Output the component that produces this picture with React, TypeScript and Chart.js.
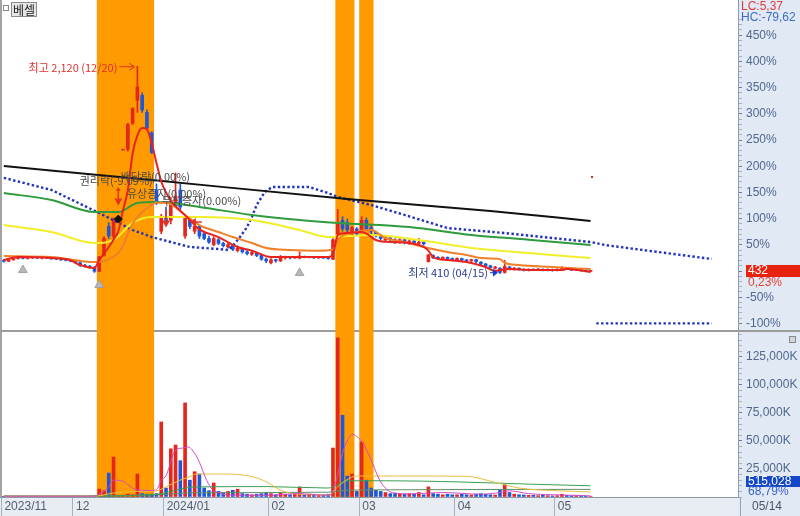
import React, { useEffect, useRef } from 'react';
import { Chart, registerables } from 'chart.js';

Chart.register(...registerables);

// ---------------- data ----------------
const stockName = '베셀';
const months = ['2023/11', '12', '2024/01', '02', '03', '04', '05'];
const monthDays = [15, 19, 22, 19, 20, 21, 8];
const lastDate = '05/14';
const hiDate = '12/20';
const loDate = '04/15';
const lastVolumeShares = 515028;
const volumeRatioPct = 68.79;

const open = [
  520, 512, 525, 535, 542, 536, 540, 545, 538, 541,
  536, 532, 530, 524, 520, 512, 500, 478, 472, 462,
  430, 560, 800, 720, 1105, 1436, 1436, 1650, 1840, 1880,
  1740, 1570, 1100, 760, 880, 850, 1000, 1100, 720, 860,
  760, 800, 740, 700, 650, 690, 660, 630, 645, 600,
  615, 590, 570, 580, 560, 530, 500, 525, 515, 540,
  548, 540, 538, 552, 545, 548, 540, 545, 540, 530,
  740, 850, 830, 740, 780, 760, 850, 790, 750, 725,
  690, 705, 690, 670, 690, 660, 680, 660, 670, 510,
  560, 545, 535, 545, 535, 525, 535, 522, 515, 525,
  505, 490, 475, 455, 455, 420, 465, 445, 455, 445,
  438, 445, 440, 446, 438, 444, 436, 445, 458, 448,
  440, 444, 436, 430,
];
const high = [
  528, 530, 540, 548, 550, 545, 552, 550, 546, 548,
  542, 540, 535, 530, 525, 518, 505, 488, 478, 468,
  552, 715, 830, 870, 1105, 1436, 1650, 1780, 2120, 1900,
  1760, 1580, 1150, 900, 960, 1040, 1240, 1150, 900, 880,
  830, 810, 760, 720, 715, 700, 670, 660, 650, 640,
  620, 600, 595, 585, 565, 540, 535, 530, 560, 555,
  552, 550, 590, 556, 552, 552, 550, 548, 545, 700,
  940, 880, 860, 800, 790, 880, 870, 810, 760, 735,
  720, 715, 700, 700, 695, 690, 685, 700, 675, 570,
  565, 550, 550, 548, 540, 540, 538, 528, 530, 528,
  510, 495, 480, 470, 460, 520, 470, 462, 458, 450,
  450, 448, 452, 450, 450, 448, 452, 468, 462, 452,
  448, 447, 440, 438,
];
const low = [
  505, 508, 520, 530, 532, 530, 535, 536, 532, 534,
  528, 526, 520, 515, 508, 495, 470, 465, 455, 420,
  425, 555, 700, 690, 1105, 1436, 1420, 1640, 1740, 1740,
  1600, 1400, 980, 740, 820, 820, 960, 940, 700, 780,
  740, 700, 690, 660, 640, 650, 630, 620, 600, 590,
  580, 565, 560, 550, 520, 500, 490, 505, 510, 530,
  532, 535, 532, 540, 540, 535, 536, 534, 528, 525,
  720, 760, 750, 730, 725, 750, 770, 740, 710, 690,
  680, 675, 660, 660, 655, 650, 650, 650, 645, 505,
  535, 528, 530, 528, 520, 518, 515, 508, 510, 500,
  485, 470, 455, 448, 410, 415, 440, 440, 438, 432,
  432, 434, 435, 432, 433, 430, 432, 442, 444, 436,
  435, 430, 428, 426,
];
const close = [
  512, 525, 535, 542, 536, 540, 545, 538, 541, 536,
  532, 530, 524, 520, 512, 500, 478, 472, 462, 430,
  548, 700, 720, 850, 1105, 1436, 1640, 1770, 1950, 1760,
  1610, 1410, 990, 870, 840, 1000, 1050, 960, 880, 800,
  800, 720, 700, 670, 700, 660, 640, 650, 610, 620,
  590, 575, 585, 560, 530, 515, 525, 515, 540, 548,
  540, 545, 555, 545, 548, 540, 545, 540, 535, 690,
  820, 780, 770, 790, 735, 850, 780, 760, 720, 700,
  710, 690, 670, 690, 665, 680, 660, 670, 655, 565,
  540, 535, 545, 535, 525, 535, 522, 515, 525, 510,
  490, 475, 460, 465, 420, 470, 450, 455, 445, 438,
  445, 440, 446, 438, 444, 436, 445, 458, 448, 440,
  444, 436, 431, 432,
];
// volume, thousand shares
const volume = [
  600, 500, 700, 650, 550, 600, 800, 500, 450, 500,
  400, 450, 500, 400, 600, 700, 800, 600, 900, 1500,
  7100, 5600, 21400, 35700, 1500, 1200, 2500, 2000, 20500, 3000,
  2500, 2500, 3000, 67000, 8000, 43000, 46400, 32400, 84000, 15000,
  22600, 20500, 8000, 5600, 12500, 5000, 4000, 5000, 6000, 7000,
  3000, 2500, 2000, 2500, 3000, 3500, 3000, 2000, 4000, 2500,
  2000, 2500, 9000, 2000, 2500, 2000, 1800, 2000, 2500, 43700,
  142000, 73000, 18700, 20500, 5000, 49000, 15000, 8000, 6000, 5000,
  4000, 3000, 3500, 3000, 2500, 3000, 2500, 4000, 2000, 9000,
  3000, 2500, 2000, 2500, 2000, 2000, 2500, 2000, 1800, 2500,
  3000, 2500, 2000, 1800, 6000, 11000, 4000, 2500, 2000, 1800,
  1500, 1500, 1200, 1500, 1200, 1000, 1200, 2500, 1500, 1000,
  900, 1000, 800, 515,
];

// highlighted (orange) day ranges, by trading-day index
const bands = [[20, 31], [70, 73], [75, 77]];

// price moving averages: [day index, price]
const ma5 = [[0, 523], [3, 547], [10, 539], [14, 520], [16, 481], [19, 457], [20, 523], [21, 575], [22, 630], [23, 690], [24, 760], [25, 935], [26, 1100], [27, 1400], [28, 1550], [29, 1610], [30, 1600], [31, 1487], [32, 1322], [33, 1170], [34, 1080], [35, 1010], [37, 930], [39, 852], [41, 775], [45, 712], [49, 630], [52, 600], [56, 547], [62, 547], [68, 547], [69, 570], [70, 729], [72, 745], [75, 754], [76, 740], [78, 688], [81, 671], [85, 663], [88, 630], [89, 600], [90, 547], [93, 523], [97, 506], [101, 465], [103, 432], [104, 440], [106, 448], [110, 440], [117, 440], [118, 448], [123, 424]];
const ma20 = [[0, 556], [10, 547], [19, 506], [21, 515], [22, 530], [24, 580], [25, 640], [26, 740], [27, 820], [28, 877], [30, 950], [32, 995], [34, 995], [38, 894], [41, 811], [45, 754], [48, 712], [52, 663], [55, 622], [60, 605], [66, 600], [69, 610], [70, 690], [73, 745], [77, 770], [80, 704], [84, 671], [88, 630], [93, 589], [97, 564], [100, 539], [104, 530], [105, 500], [108, 481], [115, 465], [123, 448]];
const ma60 = [[0, 811], [10, 754], [19, 663], [20, 663], [23, 688], [27, 828], [31, 877], [41, 877], [52, 852], [62, 770], [68, 712], [72, 720], [77, 729], [87, 688], [98, 622], [110, 580], [123, 539]];
const ma120 = [[0, 1075], [10, 1017], [19, 918], [24, 918], [28, 993], [32, 1000], [41, 960], [52, 894], [62, 852], [70, 828], [85, 795], [98, 729], [110, 690], [123, 646]];
const ma240 = [[0, 1298], [31, 1182], [72, 1026], [102, 927], [123, 844]];
const spanLead = [[0, 1200], [10, 1100], [20, 910], [27, 770], [31, 712], [35, 671], [39, 630], [45, 613], [47, 605], [48, 640], [49.5, 712], [51, 795], [52, 877], [53, 976], [54.7, 1083], [56.2, 1124], [64, 1124], [68, 1075], [70, 1042], [77, 976], [84, 894], [93, 786], [105, 745], [123, 671], [126, 646], [148.4, 531]];
const spanLag = [[124.2, 0], [148.4, 0]];

// volume moving averages: [day index, thousand shares]
const vma5 = [[0, 700], [19, 700], [20, 2500], [22, 9000], [23, 15000], [25, 14000], [26, 11000], [28, 6200], [31, 5800], [32, 6500], [33, 15000], [34, 19000], [36, 42000], [37.5, 43700], [38.6, 44600], [40, 39000], [41, 31000], [42.5, 15000], [43.8, 6250], [45.3, 3600], [46.7, 1800], [55, 1500], [62, 3000], [64, 2500], [68, 1500], [69, 5000], [70, 20000], [71, 39000], [72, 50000], [73, 56000], [74, 54000], [75.3, 48000], [76.7, 36000], [78.8, 15000], [80, 8000], [81.6, 3600], [85, 2800], [89, 3500], [92, 4000], [100, 2500], [104, 4000], [106, 5500], [110, 3000], [117, 1800], [123, 1000]];
const vma20 = [[0, 700], [19, 800], [23, 3500], [28, 5000], [32, 5500], [34, 9000], [36.9, 15000], [39, 18000], [40.4, 20500], [46.7, 20500], [52.2, 18000], [55.1, 13400], [57.9, 6250], [61.4, 2700], [68.3, 1800], [69.7, 8000], [71.8, 15000], [73.9, 18750], [83, 18750], [96.6, 18500], [104, 12000], [108, 8000], [116.6, 5500], [123, 4500]];
const vma60 = [[0, 800], [19, 800], [30, 1500], [33, 3000], [36, 6000], [40, 9000], [55, 9300], [68, 8000], [70, 11000], [72, 14500], [80, 14500], [95, 13500], [110, 11500], [123, 10000]];
const vma120 = [[0, 900], [20, 1000], [33, 2200], [40, 3800], [68, 4300], [70, 5500], [75, 6300], [123, 6800]];

// markers
const greyMarks = [[4, 440], [20, 317], [62, 415]];
const blackMarks = [[24, 860]];
const redDots = [[123.3, 1207]];
const events = [
  { i: 15.9, p: 1174, t: '권리락(-9.09%)' },
  { i: 24.5, p: 1207, t: '배당락(0.00%)' },
  { i: 25.8, p: 1067, t: '유상증자(0.00%)' },
  { i: 33.1, p: 1009, t: '무상증자(0.00%)' },
];
const eventArrows = [
  { i: 24, p: 1120, dir: 'down' },
  { i: 34, p: 940, dir: 'down' },
  { i: 39, p: 836, dir: 'left' },
];

// axis ranges (percent of last price; volume in K)
const pctTop = 517.2;
const pctBottom = -114.5;
const volMax = 148200;
const xMin = -0.8;
const xMax = 153.9;

// ---------------- styling ----------------
const RED = '#e4261b';
const BLUE = '#1f58d6';
const NARROW = "'Liberation Sans Narrow', 'Liberation Sans', Arial, sans-serif";
const KR = "'Noto Sans CJK KR', 'Noto Sans', sans-serif";

export default function App() {
  const ref = useRef<HTMLCanvasElement>(null);

  useEffect(() => {
    const canvas = ref.current as HTMLCanvasElement;
    const n = close.length;
    const basePrice = close[n - 1];
    const idx = close.map((_, i) => i);
    const col = idx.map((i) => (close[i] >= open[i] ? RED : BLUE));
    const pts = (arr: number[][]) => arr.map(([x, y]) => ({ x, y }));

    const starts: number[] = [];
    let acc = 0;
    monthDays.forEach((d) => { starts.push(acc - 0.5); acc += d; });

    const hi = Math.max(...high);
    const hiI = high.indexOf(hi);
    const lo = Math.min(...low);
    const loI = low.indexOf(lo);
    const fmtPct = (v: number) => v.toFixed(2).replace('.', ',');

    const line = (data: number[][], color: string, width: number, order: number, axis = 'y', extra: any = {}) => ({
      type: 'line',
      yAxisID: axis,
      data: pts(data),
      borderColor: color,
      borderWidth: width,
      pointRadius: 0,
      cubicInterpolationMode: 'monotone',
      order,
      ...extra,
    });

    const overlay = {
      id: 'overlay',
      beforeDraw(chart: any) {
        const { ctx, chartArea: a, width, height } = chart;
        ctx.save();
        ctx.fillStyle = '#ffffff';
        ctx.fillRect(0, 0, width, height);
        ctx.fillStyle = '#e1e9f4';
        ctx.fillRect(a.right, 0, width - a.right, height);
        ctx.fillStyle = '#e8edf4';
        ctx.fillRect(0, a.bottom, a.right, height - a.bottom);
        ctx.restore();
      },
      beforeDatasetsDraw(chart: any) {
        const { ctx, chartArea: a, scales } = chart;
        const x = scales.x;
        const yv = scales.yv;
        ctx.save();
        ctx.strokeStyle = '#9c9c9c';
        ctx.lineWidth = 2;
        ctx.beginPath();
        ctx.moveTo(0, yv.top);
        ctx.lineTo(chart.width, yv.top);
        ctx.stroke();
        ctx.fillStyle = '#ff9a00';
        bands.forEach(([s, e]) => {
          const x0 = x.getPixelForValue(s - 0.5);
          const x1 = x.getPixelForValue(e + 0.5);
          ctx.fillRect(x0, a.top, x1 - x0, a.bottom - a.top);
        });
        ctx.restore();
      },
      afterDatasetsDraw(chart: any) {
        const { ctx, scales } = chart;
        const x = scales.x;
        const y = scales.y;
        ctx.save();
        // event labels
        ctx.font = `11px ${KR}`;
        ctx.textAlign = 'left';
        ctx.textBaseline = 'middle';
        ctx.fillStyle = '#4a4a4a';
        events.forEach((e) => ctx.fillText(e.t, x.getPixelForValue(e.i), y.getPixelForValue(e.p)));
        // event arrows
        ctx.strokeStyle = '#e23322';
        ctx.fillStyle = '#e23322';
        ctx.lineWidth = 1.5;
        eventArrows.forEach((e) => {
          const px = x.getPixelForValue(e.i);
          const py = y.getPixelForValue(e.p);
          ctx.beginPath();
          if (e.dir === 'down') {
            ctx.moveTo(px, py);
            ctx.lineTo(px, py + 11);
            ctx.stroke();
            ctx.beginPath();
            ctx.moveTo(px - 4, py + 11);
            ctx.lineTo(px + 4, py + 11);
            ctx.lineTo(px, py + 18);
            ctx.closePath();
            ctx.fill();
          } else {
            ctx.moveTo(px + 5, py);
            ctx.lineTo(px + 12, py);
            ctx.stroke();
            ctx.beginPath();
            ctx.moveTo(px, py);
            ctx.lineTo(px + 6, py - 4);
            ctx.lineTo(px + 6, py + 4);
            ctx.closePath();
            ctx.fill();
          }
        });
        // highest
        const hx = x.getPixelForValue(hiI);
        const hy = y.getPixelForValue(hi);
        ctx.strokeStyle = '#e0302a';
        ctx.fillStyle = '#e0302a';
        ctx.lineWidth = 1;
        ctx.beginPath();
        ctx.moveTo(hx - 18, hy + 0.5);
        ctx.lineTo(hx - 3, hy + 0.5);
        ctx.moveTo(hx - 8, hy - 3);
        ctx.lineTo(hx - 3, hy + 0.5);
        ctx.lineTo(hx - 8, hy + 4);
        ctx.stroke();
        ctx.font = `11px ${KR}`;
        ctx.textAlign = 'right';
        ctx.textBaseline = 'middle';
        ctx.fillText(`최고 ${hi.toLocaleString('en-US')} (${hiDate})`, hx - 20, hy + 2);
        // lowest
        const lx = x.getPixelForValue(loI);
        const ly = y.getPixelForValue(lo);
        ctx.strokeStyle = '#1a3cd0';
        ctx.fillStyle = '#1a3cd0';
        ctx.beginPath();
        ctx.moveTo(lx - 10, ly - 1);
        ctx.lineTo(lx - 4, ly - 1);
        ctx.stroke();
        ctx.beginPath();
        ctx.moveTo(lx - 2, ly - 1);
        ctx.lineTo(lx - 7, ly - 5);
        ctx.lineTo(lx - 7, ly + 3);
        ctx.closePath();
        ctx.fill();
        ctx.fillStyle = '#2b3a8e';
        ctx.fillText(`최저 ${lo.toLocaleString('en-US')} (${loDate})`, lx - 12, ly - 1);
        ctx.restore();
      },
      afterDraw(chart: any) {
        const { ctx, chartArea: a, scales } = chart;
        const R = a.right;
        const y = scales.y;
        const yv = scales.yv;
        ctx.save();
        // left frame
        ctx.fillStyle = '#a3a3a3';
        ctx.fillRect(0, 0, 2, a.bottom);
        // stock name tag
        ctx.strokeStyle = '#8c8c8c';
        ctx.lineWidth = 1;
        ctx.strokeRect(3.5, 5.5, 5, 5);
        ctx.fillStyle = '#e6e6e6';
        ctx.fillRect(11.5, 2.5, 25, 14);
        ctx.strokeRect(11.5, 2.5, 25, 14);
        ctx.fillStyle = '#222';
        ctx.font = `12px ${KR}`;
        ctx.textAlign = 'left';
        ctx.textBaseline = 'middle';
        ctx.fillText(stockName, 13, 10);
        // LC / HC
        const last = close[n - 1];
        ctx.font = `12px ${NARROW}`;
        ctx.textBaseline = 'top';
        ctx.fillStyle = '#e23b3b';
        ctx.fillText(`LC:${fmtPct((last / lo - 1) * 100)}`, R + 3, 1);
        ctx.fillStyle = '#3d6cc8';
        ctx.fillText(`HC:${fmtPct((last / hi - 1) * 100)}`, R + 3, 12);
        // current price tag
        const py = y.getPixelForValue(basePrice);
        ctx.fillStyle = '#e8230d';
        ctx.fillRect(R + 8, py - 6, 54, 12);
        ctx.textBaseline = 'middle';
        ctx.fillStyle = '#ffffff';
        ctx.fillText(String(last), R + 10, py);
        ctx.fillStyle = '#e34434';
        ctx.fillText(`${fmtPct((close[n - 1] / close[n - 2] - 1) * 100)}%`, R + 10, py + 12);
        // volume tag
        const vy = yv.bottom - 15;
        ctx.fillStyle = '#1448c8';
        ctx.fillRect(R + 8, vy - 6, 54, 11);
        ctx.fillStyle = '#ffffff';
        ctx.fillText(lastVolumeShares.toLocaleString('en-US'), R + 10, vy);
        ctx.fillStyle = '#3a66cc';
        ctx.fillText(`${fmtPct(volumeRatioPct)}%`, R + 10, vy + 10);
        // small icon in volume pane
        ctx.strokeStyle = '#888';
        ctx.fillStyle = '#cfd6e0';
        ctx.fillRect(R + 51.5, yv.top + 5.5, 6, 6);
        ctx.strokeRect(R + 51.5, yv.top + 5.5, 6, 6);
        // date cell
        ctx.strokeStyle = '#9aa3b0';
        ctx.beginPath();
        ctx.moveTo(R + 2.5, a.bottom);
        ctx.lineTo(R + 2.5, chart.height);
        ctx.stroke();
        ctx.fillStyle = '#4a5466';
        ctx.fillText(lastDate, R + 14, a.bottom + 10);
        ctx.restore();
      },
    };

    const datasets: any[] = [
      line(spanLag, '#2233bb', 2.4, 8, 'y', { borderDash: [2.4, 2.4], cubicInterpolationMode: 'default', tension: 0 }),
      line(spanLead, '#2233bb', 2.4, 7, 'y', { borderDash: [2.4, 2.4], cubicInterpolationMode: 'default', tension: 0 }),
      line(ma240, '#111111', 2, 2),
      line(ma120, '#2f9a3e', 2, 5),
      line(ma60, '#f3ee2a', 2, 4),
      line(ma20, '#f0802a', 2, 3),
      line(ma5, '#e8231e', 2, 1),
      line(vma120, '#5f8f6a', 1, 5, 'yv'),
      line(vma60, '#3aa050', 1, 4, 'yv'),
      line(vma20, '#e8c040', 1, 3, 'yv'),
      line(vma5, '#d24cc4', 1, 2, 'yv'),
      {
        type: 'bar', yAxisID: 'y', order: 12, grouped: false, barThickness: 1,
        data: idx.map((i) => ({ x: i, y: [low[i], high[i]] })),
        backgroundColor: col,
      },
      {
        type: 'bar', yAxisID: 'y', order: 11, grouped: false, barThickness: 3, minBarLength: 1,
        data: idx.map((i) => ({ x: i, y: [open[i], close[i]] })),
        backgroundColor: col,
      },
      {
        type: 'bar', yAxisID: 'yv', order: 12, grouped: false, barThickness: 3,
        data: idx.map((i) => ({ x: i, y: volume[i] })),
        backgroundColor: col,
      },
      {
        type: 'scatter', yAxisID: 'y', order: 0, data: pts(greyMarks),
        pointStyle: 'triangle', pointRadius: 5, backgroundColor: '#b8b8b8', borderColor: '#a0a0a0', borderWidth: 1,
      },
      {
        type: 'scatter', yAxisID: 'y', order: 0, data: pts(blackMarks),
        pointStyle: 'rectRot', pointRadius: 4, backgroundColor: '#111', borderColor: '#111', borderWidth: 1,
      },
      {
        type: 'scatter', yAxisID: 'y', order: 0, data: pts(redDots),
        pointStyle: 'rect', pointRadius: 1.5, backgroundColor: '#e03020', borderColor: '#e03020', borderWidth: 0,
      },
    ];

    const pctToPrice = (p: number) => basePrice * (1 + p / 100);
    const noPad = (s: any) => { s.paddingLeft = 0; s.paddingRight = 0; s.paddingTop = 0; s.paddingBottom = 0; };

    const chart = new Chart(canvas, {
      type: 'bar',
      data: { datasets },
      options: {
        animation: false,
        responsive: false,
        devicePixelRatio: 1,
        events: [],
        layout: { padding: 0, autoPadding: false },
        plugins: { legend: { display: false }, tooltip: { enabled: false } },
        scales: {
          x: {
            type: 'linear',
            position: 'bottom',
            min: xMin,
            max: xMax,
            offset: false,
            afterFit: (s: any) => { s.height = 19; noPad(s); },
            afterBuildTicks: (s: any) => { s.ticks = starts.map((v) => ({ value: v })); },
            ticks: {
              autoSkip: false,
              maxRotation: 0,
              minRotation: 0,
              align: 'start',
              labelOffset: 3,
              padding: -17,
              color: '#545d6c',
              font: { family: NARROW, size: 12 },
              callback: (_v: any, i: number) => months[i],
            },
            grid: { offset: false, drawOnChartArea: false, drawTicks: true, tickLength: 19, color: '#a8b1be' },
            border: { display: true, color: '#8e98a8' },
          },
          y: {
            type: 'linear',
            position: 'right',
            stack: 'pane',
            stackWeight: 331,
            min: pctToPrice(pctBottom),
            max: pctToPrice(pctTop),
            afterFit: (s: any) => { s.width = 62; noPad(s); },
            afterBuildTicks: (s: any) => {
              const t = [];
              for (let k = -10; k <= 48; k++) t.push({ value: pctToPrice(k * 10) });
              s.ticks = t;
            },
            ticks: {
              autoSkip: false,
              padding: 4,
              color: '#4f6890',
              font: { family: NARROW, size: 12 },
              callback: (v: any) => {
                const k = Math.round((v / basePrice - 1) * 10);
                return k % 5 === 0 ? `${k * 10}%` : '';
              },
            },
            grid: {
              drawOnChartArea: false,
              drawTicks: true,
              tickLength: 4,
              color: (c: any) => (c.tick && c.tick.label ? '#6f819c' : '#a9b5c6'),
            },
            border: { display: true, color: '#8e9bb0' },
          },
          yv: {
            type: 'linear',
            position: 'right',
            stack: 'pane',
            stackWeight: 166,
            min: 0,
            max: volMax,
            afterFit: (s: any) => { s.width = 62; noPad(s); },
            afterBuildTicks: (s: any) => {
              const t = [];
              for (let v = 0; v <= 145000; v += 5000) t.push({ value: v });
              s.ticks = t;
            },
            ticks: {
              autoSkip: false,
              padding: 4,
              color: '#4f6890',
              font: { family: NARROW, size: 12 },
              callback: (v: any) => (v > 0 && v % 25000 === 0 ? `${v.toLocaleString('en-US')}K` : ''),
            },
            grid: {
              drawOnChartArea: false,
              drawTicks: true,
              tickLength: 4,
              color: (c: any) => (c.tick && c.tick.label ? '#6f819c' : '#a9b5c6'),
            },
            border: { display: true, color: '#8e9bb0' },
          },
        },
      } as any,
      plugins: [overlay],
    } as any);

    return () => chart.destroy();
  }, []);

  return (
    <div style={{ position: 'absolute', left: 0, top: 0, width: 800, height: 516 }}>
      <canvas ref={ref} width={800} height={516} style={{ width: 800, height: 516, display: 'block' }} />
    </div>
  );
}
